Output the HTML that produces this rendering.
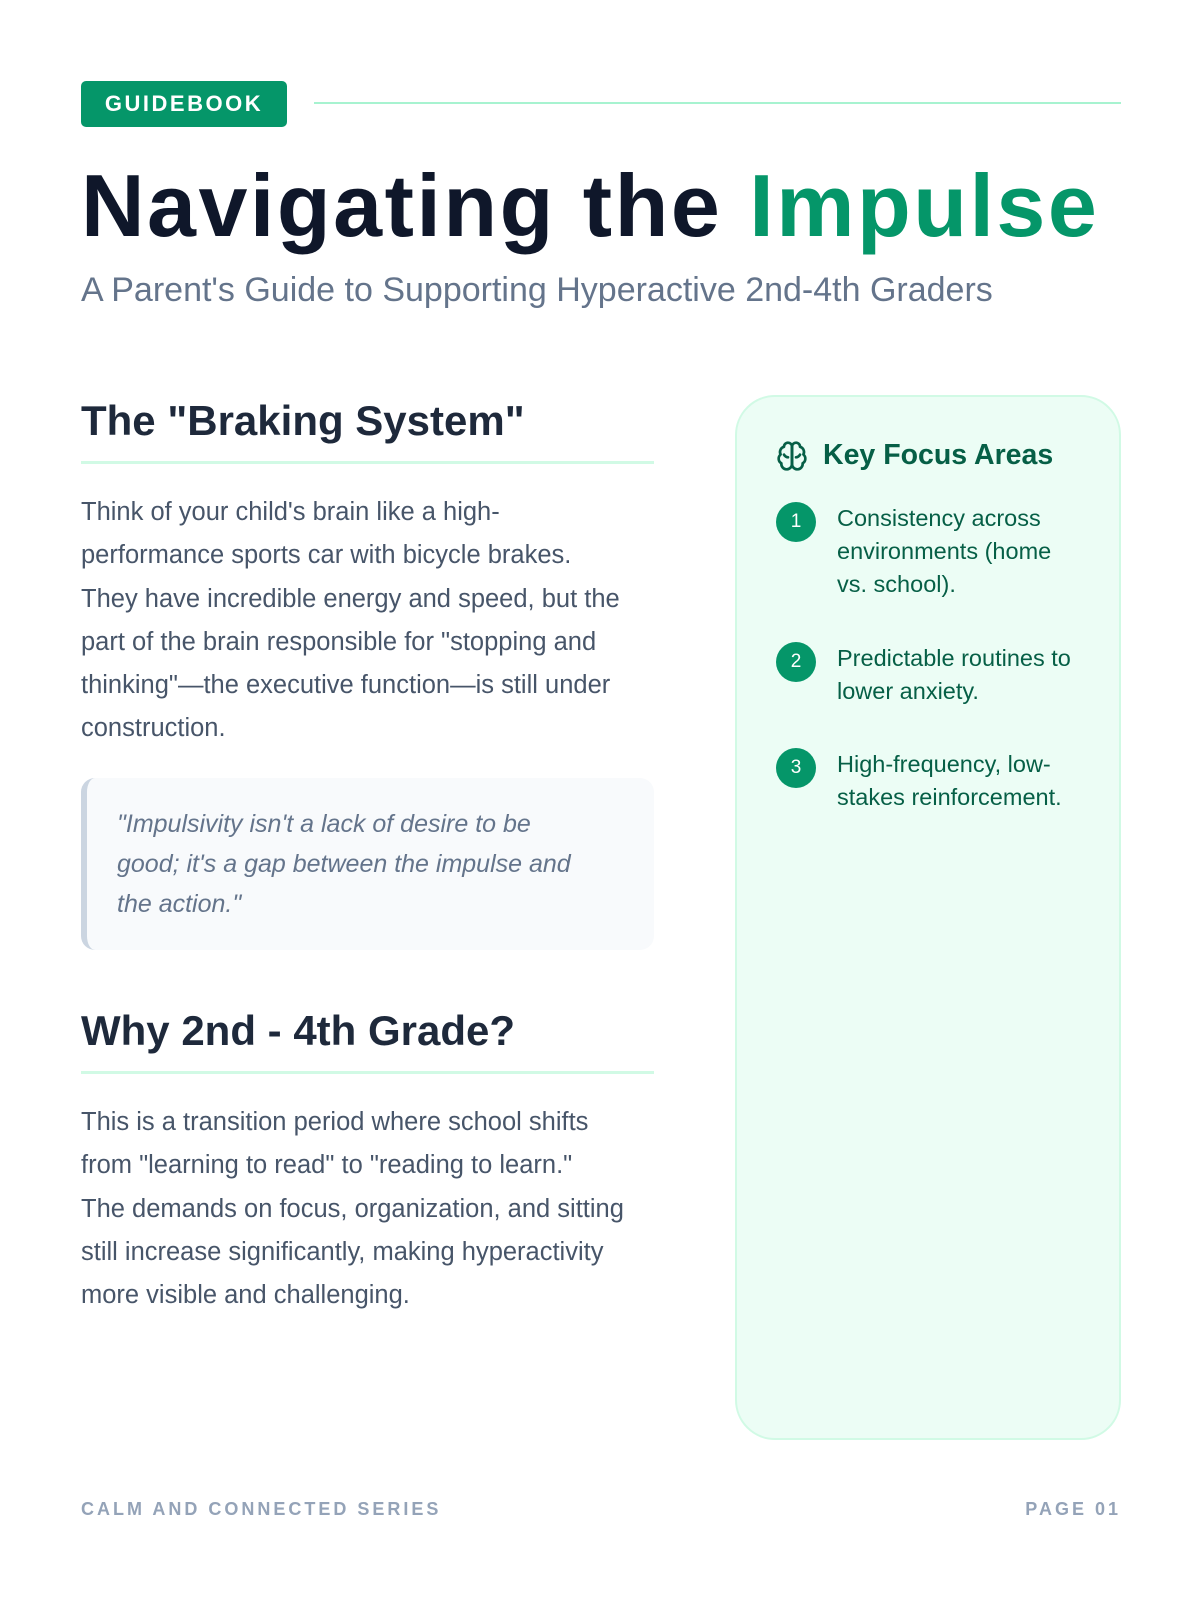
<!DOCTYPE html>
<html><head><meta charset="utf-8"><style>
*{margin:0;padding:0;box-sizing:border-box}
body{width:1200px;height:1600px;background:#fff;position:relative;font-family:"Liberation Sans",sans-serif;overflow:hidden}
.a{position:absolute;white-space:nowrap}
.badge{left:81px;top:81px;width:206px;height:46px;background:#059669;border-radius:5px;color:#fff;font-weight:bold;font-size:22px;letter-spacing:2.5px;line-height:46px;text-align:center}
.hline{left:314px;top:102px;width:807px;height:2px;background:#a7f3d0}
.title{left:81px;top:158px;font-size:88px;font-weight:bold;color:#0f172a;letter-spacing:2.5px;line-height:96px}
.title span{color:#059669}
.sub{left:81px;top:270px;font-size:34px;color:#64748b;line-height:40px}
h2{position:absolute;left:81px;font-size:42px;line-height:48px;color:#1e293b;font-weight:bold;white-space:nowrap}
.ul{position:absolute;left:81px;width:573px;height:3px;background:#d1fae5}
.p{position:absolute;left:81px;font-size:25.5px;line-height:43.3px;color:#475569;white-space:nowrap}
.quote{position:absolute;left:81px;top:778px;width:573px;height:172px;background:#f8fafc;border-left:6px solid #cbd5e1;border-radius:14px;padding:26px 30px 0 30px;font-style:italic;font-size:25px;line-height:40px;color:#64748b;white-space:nowrap}
.card{position:absolute;left:735px;top:395px;width:386px;height:1045px;background:#ecfdf5;border:2px solid #d1fae5;border-radius:40px}
.ch{left:823px;top:437px;font-size:28.5px;font-weight:bold;color:#065f46;line-height:36px}
.num{position:absolute;left:776px;width:40px;height:40px;border-radius:50%;background:#059669;color:#fff;font-size:19px;text-align:center;line-height:40px}
.it{position:absolute;left:837px;font-size:23.5px;line-height:33px;color:#065f46;white-space:nowrap}
.foot{top:1497px;font-size:18px;font-weight:bold;letter-spacing:3px;color:#94a3b8;line-height:24px}
</style></head><body>
<div class="a badge">GUIDEBOOK</div>
<div class="a hline"></div>
<div class="a title">Navigating the <span>Impulse</span></div>
<div class="a sub">A Parent's Guide to Supporting Hyperactive 2nd-4th Graders</div>

<h2 style="top:397px">The "Braking System"</h2>
<div class="ul" style="top:461px"></div>
<div class="p" style="top:491px">Think of your child's brain like a high-<br>performance sports car with bicycle brakes.<br>They have incredible energy and speed, but the<br>part of the brain responsible for "stopping and<br>thinking"—the executive function—is still under<br>construction.</div>
<div class="quote">"Impulsivity isn't a lack of desire to be<br>good; it's a gap between the impulse and<br>the action."</div>

<h2 style="top:1007px">Why 2nd - 4th Grade?</h2>
<div class="ul" style="top:1071px"></div>
<div class="p" style="top:1101px">This is a transition period where school shifts<br>from "learning to read" to "reading to learn."<br>The demands on focus, organization, and sitting<br>still increase significantly, making hyperactivity<br>more visible and challenging.</div>

<div class="card"></div>
<svg class="a" style="left:776px;top:440px" width="32" height="32" viewBox="0 0 24 24" fill="none" stroke="#065f46" stroke-width="2" stroke-linecap="round" stroke-linejoin="round"><path d="M12 5a3 3 0 1 0-5.997.125 4 4 0 0 0-2.526 5.77 4 4 0 0 0 .556 6.588A4 4 0 1 0 12 18Z"/><path d="M12 5a3 3 0 1 1 5.997.125 4 4 0 0 1 2.526 5.77 4 4 0 0 1-.556 6.588A4 4 0 1 1 12 18Z"/><path d="M12 5v13"/><path d="M9 13a4 4 0 0 1-3-2M15 13a4 4 0 0 0 3-2"/></svg>
<div class="a ch">Key Focus Areas</div>
<div class="num" style="top:502px">1</div>
<div class="it" style="top:502px">Consistency across<br>environments (home<br>vs. school).</div>
<div class="num" style="top:642px">2</div>
<div class="it" style="top:642px">Predictable routines to<br>lower anxiety.</div>
<div class="num" style="top:748px">3</div>
<div class="it" style="top:748px">High-frequency, low-<br>stakes reinforcement.</div>

<div class="a foot" style="left:81px">CALM AND CONNECTED SERIES</div>
<div class="a foot" style="right:79px">PAGE 01</div>
</body></html>
